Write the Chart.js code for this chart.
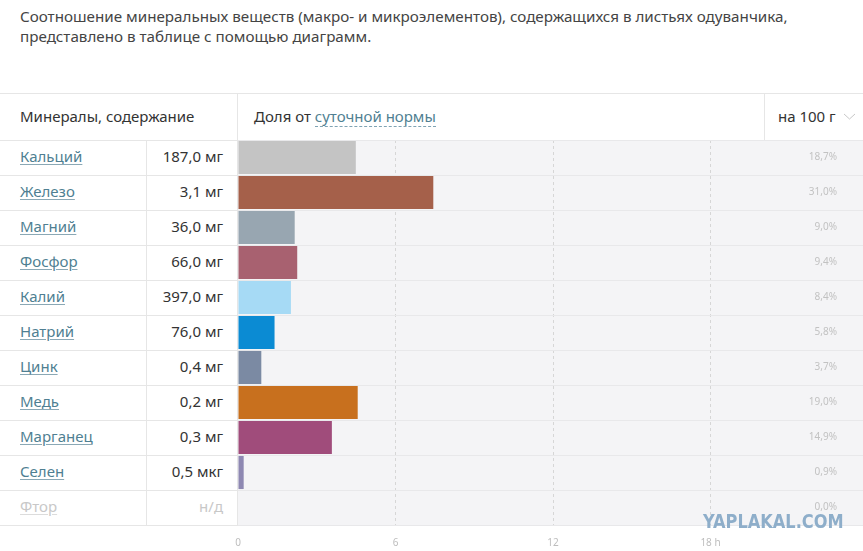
<!DOCTYPE html>
<html><head><meta charset="utf-8">
<script src="https://cdn.jsdelivr.net/npm/chart.js@4"></script>
<style>
html,body{margin:0;padding:0;width:863px;height:551px;overflow:hidden;background:#fff;font-family:"Noto Sans","Open Sans",sans-serif;}
.abs{position:absolute;}
#title{left:20px;top:6px;font-size:15.2px;line-height:20px;color:#444;white-space:nowrap;}
.hline{position:absolute;height:1px;background:#e6e6e6;left:0;width:863px;}
.vline{position:absolute;width:1px;background:#e6e6e6;}
.hdr{position:absolute;font-size:15px;color:#333;top:105px;line-height:22px;white-space:nowrap;}
.lnk{color:#4f7f92;}
.dot{border-bottom:1px dashed #7fa3b3;}
.name{position:absolute;left:20px;font-size:15px;line-height:20px;color:#4f7f92;text-decoration:underline;text-decoration-color:#8aa8b5;text-underline-offset:2px;white-space:nowrap;}
.val{position:absolute;right:640px;font-size:15px;line-height:20px;color:#333;white-space:nowrap;text-align:right;}
.na{color:#c8c8c8 !important;text-decoration-color:#dcdcdc !important;}
#wm{left:703px;top:509px;font-family:"Liberation Sans Narrow","DejaVu Sans Condensed",sans-serif;font-weight:bold;font-size:20px;line-height:24px;color:#8eaeca;letter-spacing:0px;transform:scaleX(0.9);transform-origin:left;}
</style></head>
<body>
<div id="title" class="abs">Соотношение минеральных веществ (макро- и микроэлементов), содержащихся в листьях одуванчика,<br>представлено в таблице с помощью диаграмм.</div>
<div class="hline" style="top:93px"></div>
<div class="vline" style="left:237px;top:93px;height:432px"></div>
<div class="vline" style="left:764px;top:93px;height:47px"></div>
<div class="vline" style="left:146px;top:140px;height:385px"></div>
<div class="hdr" style="left:20px">Минералы, содержание</div>
<div class="hdr" style="left:254px">Доля от <span class="lnk dot">суточной нормы</span></div>
<div class="hdr" style="left:778px">на 100 г</div>
<svg class="abs" style="left:843px;top:112px" width="14" height="10"><polyline points="1,2 6.5,7 12,2" fill="none" stroke="#c8c8c8" stroke-width="1"/></svg>
<div id="rows"></div>
<canvas id="c" class="abs" style="left:228px;top:140px;"></canvas>
<div id="wm" class="abs">YAPLAKAL.COM</div>
<script>
const minerals = ["Кальций","Железо","Магний","Фосфор","Калий","Натрий","Цинк","Медь","Марганец","Селен","Фтор"];
const amounts = ["187,0 мг","3,1 мг","36,0 мг","66,0 мг","397,0 мг","76,0 мг","0,4 мг","0,2 мг","0,3 мг","0,5 мкг","н/д"];
const dailyShare = [18.7, 31.0, 9.0, 9.4, 8.4, 5.8, 3.7, 19.0, 14.9, 0.9, 0.0];
const barColors = ["#c4c4c4","#a5604a","#98a6b1","#a86170","#a6daf5","#0b8bd3","#7b8aa3","#c8701e","#a04c7b","#8e88b2","#cccccc"];
const tickLabels = ["0","6","12","18 h",""];
const missing = [false,false,false,false,false,false,false,false,false,false,true];

// left table rows
const rowsDiv = document.getElementById('rows');
const ROW0 = 140, ROWH = 35;
let html = '';
for (let i = 0; i <= minerals.length; i++) {
  html += '<div class="hline" style="top:' + (ROW0 + i*ROWH) + 'px;width:238px"></div>';
}
minerals.forEach((m, i) => {
  const top = ROW0 + i*ROWH + 6;
  html += '<div class="name' + (missing[i] ? ' na' : '') + '" style="top:' + top + 'px">' + m + '</div>';
  html += '<div class="val' + (missing[i] ? ' na' : '') + '" style="top:' + top + 'px">' + amounts[i] + '</div>';
});
rowsDiv.innerHTML = html;

const canvas = document.getElementById('c');
canvas.width = 640; canvas.height = 409;
canvas.style.width = '640px'; canvas.style.height = '409px';

const bgPlugin = {
  id: 'bg',
  beforeDraw(chart) {
    const {ctx, chartArea: a} = chart;
    ctx.save();
    ctx.fillStyle = '#f4f4f6';
    ctx.fillRect(a.left, a.top, a.right - a.left, a.bottom - a.top);
    ctx.restore();
  }
};
const pctPlugin = {
  id: 'pct',
  afterDatasetsDraw(chart) {
    const {ctx} = chart;
    const ys = chart.scales.y;
    ctx.save();
    ctx.font = '10px "Noto Sans", sans-serif';
    ctx.fillStyle = '#c2c2c2';
    ctx.textAlign = 'right';
    ctx.textBaseline = 'middle';
    dailyShare.forEach((v, i) => {
      ctx.fillText(v.toFixed(1).replace('.', ',') + '%', 609, ys.getPixelForValue(i));
    });
    ctx.restore();
  }
};

new Chart(canvas, {
  type: 'bar',
  data: {
    labels: minerals,
    datasets: [{
      data: dailyShare,
      backgroundColor: barColors,
      borderWidth: 0,
      barPercentage: 1,
      categoryPercentage: 0.945
    }]
  },
  options: {
    indexAxis: 'y',
    responsive: false,
    animation: false,
    devicePixelRatio: 1,
    layout: {padding: {left: 10, right: 0, top: 0, bottom: 0}},
    plugins: {legend: {display: false}, tooltip: {enabled: false}},
    scales: {
      x: {
        min: 0, max: 100,
        afterFit: (s) => { s.paddingLeft = 0; s.paddingRight = 0; s.height = 24; },
        ticks: {
          stepSize: 25,
          padding: 12,
          color: '#bdbdbd',
          font: {size: 10, family: '"Noto Sans", sans-serif'},
          maxRotation: 0,
          autoSkip: false,
          callback: (v, i) => tickLabels[i]
        },
        grid: {
          drawTicks: false,
          color: (c) => (c.index === 0 || c.index === 4) ? 'rgba(0,0,0,0)' : '#d6d6d6'
        },
        border: {display: false, dash: [3, 3]}
      },
      y: {
        afterFit: (s) => { s.width = 0; s.paddingTop = 0; s.paddingBottom = 0; },
        ticks: {display: false},
        grid: {offset: true, drawTicks: false, color: '#e8e8ea'},
        border: {display: false}
      }
    }
  },
  plugins: [bgPlugin, pctPlugin]
});
</script>
</body></html>
